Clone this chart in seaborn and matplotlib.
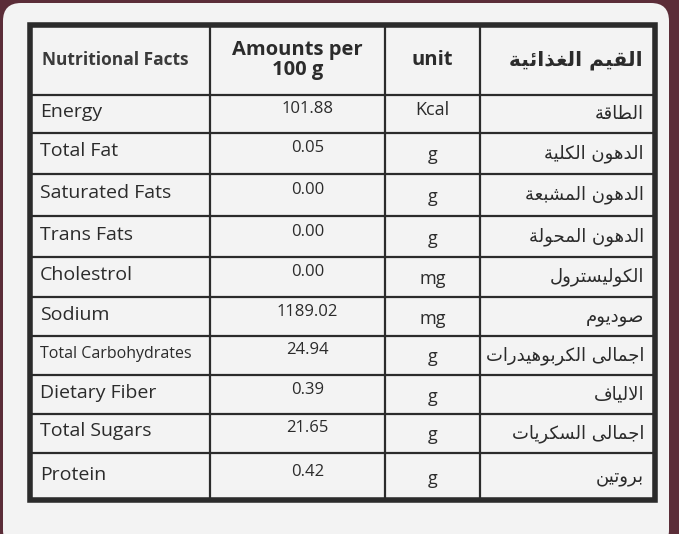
import matplotlib
matplotlib.use("Agg")
import matplotlib.pyplot as plt
import matplotlib.patches as mpatches
import seaborn as sns

# ── data ──────────────────────────────────────────────────────────────
nutrients = ["Energy", "Total Fat", "Saturated Fats", "Trans Fats", "Cholestrol",
             "Sodium", "Total Carbohydrates", "Dietary Fiber", "Total Sugars", "Protein"]
amounts = ["101.88", "0.05", "0.00", "0.00", "0.00", "1189.02", "24.94", "0.39", "21.65", "0.42"]
units = ["Kcal", "g", "g", "g", "mg", "mg", "g", "g", "g", "g"]
arabic = ["الطاقة", "الدهون الكلية", "الدهون المشبعة", "الدهون المحولة", "الكوليسترول",
          "صوديوم", "اجمالى الكربوهيدرات", "الالياف", "اجمالى السكريات", "بروتين"]
headers = ["Nutritional Facts", "Amounts per\n100 g", "unit", "القيم الغذائية"]

# ── minimal Arabic shaping (matplotlib has no RTL/joining support) ─────
DUAL = {"ئ": 0xFE89, "ب": 0xFE8F, "ت": 0xFE95, "ث": 0xFE99, "ج": 0xFE9D, "ح": 0xFEA1,
        "خ": 0xFEA5, "س": 0xFEB1, "ش": 0xFEB5, "ص": 0xFEB9, "ض": 0xFEBD, "ط": 0xFEC1,
        "ظ": 0xFEC5, "ع": 0xFEC9, "غ": 0xFECD, "ف": 0xFED1, "ق": 0xFED5, "ك": 0xFED9,
        "ل": 0xFEDD, "م": 0xFEE1, "ن": 0xFEE5, "ه": 0xFEE9, "ي": 0xFEF1}
RIGHT = {"آ": 0xFE81, "أ": 0xFE83, "ؤ": 0xFE85, "إ": 0xFE87, "ا": 0xFE8D, "ة": 0xFE93,
         "د": 0xFEA9, "ذ": 0xFEAB, "ر": 0xFEAD, "ز": 0xFEAF, "و": 0xFEED, "ى": 0xFEEF}


def shape(text):
    chars = list(text)
    out = []
    i = 0
    while i < len(chars):
        c = chars[i]
        prev = chars[i - 1] if i > 0 else ""
        joins_prev = prev in DUAL
        if c == "ل" and i + 1 < len(chars) and chars[i + 1] == "ا":
            out.append(chr(0xFEFC if joins_prev else 0xFEFB))
            i += 2
            continue
        nxt = chars[i + 1] if i + 1 < len(chars) else ""
        if c in DUAL:
            joins_next = nxt in DUAL or nxt in RIGHT
            base = DUAL[c]
            if joins_prev and joins_next:
                out.append(chr(base + 3))
            elif joins_prev:
                out.append(chr(base + 1))
            elif joins_next:
                out.append(chr(base + 2))
            else:
                out.append(chr(base))
        elif c in RIGHT:
            out.append(chr(RIGHT[c] + (1 if joins_prev else 0)))
        else:
            out.append(c)
        i += 1
    return "".join(out[::-1])


# ── figure ────────────────────────────────────────────────────────────
sns.set_style("white")
plt.rcParams["font.family"] = ["Open Sans", "DejaVu Sans"]

fig = plt.figure(figsize=(6.79, 5.34), dpi=100)
fig.patch.set_facecolor("#5b2d38")
ax = fig.add_axes([0, 0, 1, 1])
ax.set_xlim(0, 679)
ax.set_ylim(534, 0)
ax.axis("off")

ax.add_patch(mpatches.FancyBboxPatch((3, 3), 666, 545, boxstyle="round,pad=0,rounding_size=18",
                                     fc="#f3f3f3", ec="none"))

col_x = [30, 210, 385, 480, 655]
row_y = [25, 95, 133, 174, 216, 257, 297, 336, 375, 414, 453, 500]
ink = "#2b2b2b"

for x in col_x[1:-1]:
    ax.plot([x, x], [row_y[0], row_y[-1]], color=ink, lw=1.6)
for y in row_y[1:-1]:
    ax.plot([col_x[0], col_x[-1]], [y, y], color=ink, lw=1.6)
ax.add_patch(mpatches.Rectangle((col_x[0], row_y[0]), col_x[-1] - col_x[0], row_y[-1] - row_y[0],
                                fill=False, ec=ink, lw=4))

hy = (row_y[0] + row_y[1]) / 2
ax.text(42, hy, headers[0], fontsize=12.5, fontweight="bold", color="#3a3a3a", va="center", ha="left")
ax.text((col_x[1] + col_x[2]) / 2, hy, headers[1], fontsize=14.5, fontweight="bold", color=ink,
        va="center", ha="center", linespacing=0.95)
ax.text((col_x[2] + col_x[3]) / 2, hy, headers[2], fontsize=14.5, fontweight="bold", color=ink,
        va="center", ha="center")
ax.text(643, hy, shape(headers[3]), fontsize=14.5, fontweight="bold", color=ink,
        va="center", ha="right", family="DejaVu Sans")

for i in range(len(nutrients)):
    y0, y1 = row_y[i + 1], row_y[i + 2]
    yc = (y0 + y1) / 2
    small = len(nutrients[i]) > 16
    ax.text(40, yc - 2, nutrients[i], fontsize=11.5 if small else 14, color=ink, va="center", ha="left")
    ax.text((col_x[1] + col_x[2]) / 2 + 10, yc - 5, amounts[i], fontsize=12, color=ink,
            va="center", ha="center")
    ax.text((col_x[2] + col_x[3]) / 2, yc - 4 if units[i] == "Kcal" else yc + 2, units[i],
            fontsize=13, color=ink, va="center", ha="center")
    ax.text(644, yc, shape(arabic[i]), fontsize=13, color=ink, va="center", ha="right",
            family="DejaVu Sans")

fig.savefig("out.png", dpi=100, facecolor=fig.get_facecolor())
